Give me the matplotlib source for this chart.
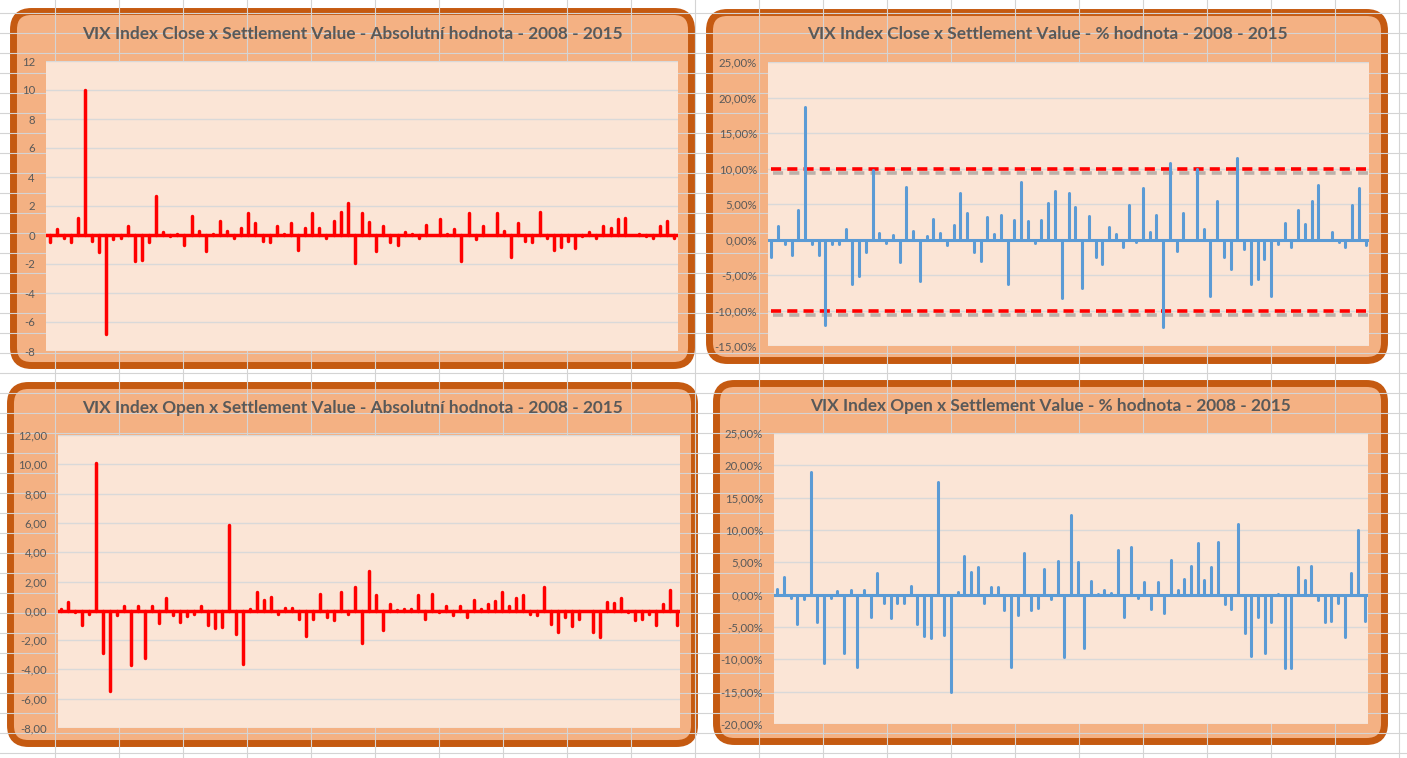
import matplotlib
matplotlib.use("Agg")
import matplotlib.pyplot as plt
import matplotlib.patheffects as pe
from matplotlib.patches import FancyBboxPatch
from matplotlib.ticker import FuncFormatter, MultipleLocator
import numpy as np

# rozdil VIX index vs. settlement value, mesicne 2008 - 2015
close_abs = [-0.5, 0.4, -0.2, -0.5, 1.2, 10.0, -0.4, -1.2, -6.8, -0.3,
             -0.2, 0.6, -1.8, -1.7, -0.5, 2.7, 0.2, -0.1, 0.1, -0.7,
             1.3, 0.3, -1.1, 0.05, 1.0, 0.3, -0.2, 0.5, 1.5, 0.8,
             -0.4, -0.5, 0.6, 0.1, 0.8, -1.0, 0.5, 1.5, 0.5, -0.2,
             1.0, 1.6, 2.2, -1.9, 1.5, 0.9, -1.1, 0.6, -0.5, -0.7,
             0.2, 0.1, -0.2, 0.7, 0.0, 1.1, 0.1, 0.4, -1.8, 1.5,
             -0.3, 0.6, 0.0, 1.5, 0.3, -1.5, 0.8, -0.4, -0.5, 1.6,
             -0.2, -1.0, -0.8, -0.4, -0.9, -0.1, 0.2, -0.2, 0.6, 0.5,
             1.1, 1.2, 0.0, 0.1, -0.1, -0.2, 0.6, 1.0, -0.2]

close_pct = [-2.4, 1.9, -0.6, -2.2, 4.1, 18.7, -0.7, -2.2, -12.1, -0.6,
             -0.6, 1.5, -6.3, -5.2, -1.7, 9.8, 0.9, -0.5, 0.6, -3.1,
             7.4, 1.2, -5.8, 0.5, 2.9, 0.9, -0.8, 2.0, 6.6, 3.8,
             -1.7, -3.0, 3.2, 0.8, 3.4, -6.3, 2.7, 8.1, 2.6, -0.5,
             2.7, 5.1, 6.9, -8.2, 6.6, 4.6, -6.8, 3.3, -2.4, -3.5,
             1.8, 0.8, -1.1, 4.9, -0.3, 7.3, 1.1, 3.5, -12.3, 10.8,
             -1.6, 3.8, 0.0, 10.0, 1.5, -8.0, 5.4, -2.4, -4.2, 11.5,
             -1.3, -6.2, -5.5, -2.8, -8.0, -0.6, 2.3, -1.0, 4.2, 2.2,
             5.4, 7.7, 0.0, 1.0, -0.4, -1.0, 4.9, 7.2, -0.8]

open_abs = [0.15, 0.6, -0.1, -0.95, -0.2, 10.1, -2.9, -5.5, -0.3, 0.3,
            -3.7, 0.3, -3.2, 0.3, -0.8, 0.9, -0.3, -0.75, -0.35, -0.25,
            0.3, -1.0, -1.15, -1.1, 5.85, -1.6, -3.6, 0.15, 1.3, 0.75,
            0.95, -0.2, 0.2, 0.2, -0.55, -1.75, -0.55, 1.15, -0.45, -0.65,
            1.3, -0.25, 1.65, -2.2, 2.75, 1.05, -1.3, 0.45, 0.05, 0.15,
            0.1, 1.05, -0.55, 1.15, -0.1, 0.35, -0.3, 0.3, -0.4, 0.75,
            0.15, 0.45, 0.7, 1.25, 0.35, 0.85, 1.1, -0.25, -0.3, 1.6,
            -0.9, -1.45, -0.45, -1.05, -0.55, 0.0, -1.45, -1.8, 0.6, 0.55,
            0.9, -0.1, -0.65, -0.55, -0.2, -1.0, 0.45, 1.4, -0.95]

open_pct = [0.9, 2.7, -0.45, -4.5, -0.7, 19.0, -4.3, -10.5, -0.5, 0.6,
            -9.0, 0.7, -11.2, 0.7, -3.45, 3.35, -1.3, -3.6, -1.3, -1.3,
            1.35, -4.6, -6.4, -6.7, 17.4, -6.3, -15.0, 0.4, 6.0, 3.5,
            4.3, -1.3, 1.2, 1.2, -2.3, -11.2, -3.2, 6.4, -2.3, -2.1,
            3.9, -0.7, 5.2, -9.6, 12.3, 5.0, -8.2, 2.1, 0.15, 0.7,
            0.25, 6.9, -3.45, 7.3, -0.5, 1.9, -2.15, 1.9, -2.8, 5.3,
            0.7, 2.4, 4.5, 8.0, 2.2, 4.3, 8.1, -1.4, -2.15, 10.9,
            -6.0, -9.5, -3.45, -9.0, -4.3, 0.15, -11.4, -11.3, 4.3, 2.2,
            4.5, -0.9, -4.2, -4.1, -1.3, -6.5, 3.35, 9.95, -4.1]

limit_pct = 10.0

titles = ["VIX Index Close x Settlement Value - Absolutní hodnota - 2008 - 2015",
          "VIX Index Close x Settlement Value - % hodnota - 2008 - 2015",
          "VIX Index Open x Settlement Value - Absolutní hodnota - 2008 - 2015",
          "VIX Index Open x Settlement Value - % hodnota - 2008 - 2015"]

W, H = 1407, 758
GRAY = "#595959"
fig = plt.figure(figsize=(W / 100, H / 100), dpi=100)

# pozadi - excel mrizka
bg = fig.add_axes([0, 0, 1, 1])
bg.set_xlim(0, W)
bg.set_ylim(H, 0)
bg.axis("off")
for x in np.arange(55, W, 64):
    bg.axvline(x, color="#D4D4D4", lw=0.8)
for y in np.arange(13.3, H, 20):
    bg.axhline(y, color="#D4D4D4", lw=0.8)

boxes = [(10, 8, 695, 369), (706, 9, 1388, 364), (7, 382, 698, 747), (713, 380, 1388, 745)]
areas = [(46, 61, 678, 351), (768, 62, 1369, 346), (58, 435, 680, 728), (774, 433, 1368, 724)]
title_y = [34, 34, 408, 406]

for (l, t, r, b) in boxes:
    bg.add_patch(FancyBboxPatch((l + 3.5, t + 3.5), r - l - 7, b - t - 7,
                                boxstyle="round,pad=0,rounding_size=18",
                                fc="#F4B183", ec="#C55A11", lw=5.0))


def fmt_abs(v, pos):
    return "%d" % v


def fmt_abs2(v, pos):
    return ("%.2f" % v).replace(".", ",")


def fmt_pct(v, pos):
    return ("%.2f%%" % v).replace(".", ",")


def panel(i, data, color, ylo, yhi, step, fmt, lw):
    l, t, r, b = areas[i]
    ax = fig.add_axes([l / W, 1 - b / H, (r - l) / W, (b - t) / H])
    ax.set_facecolor("#FBE5D6")
    x = np.arange(len(data))
    spikes = ax.vlines(x, 0, data, color=color, lw=lw, zorder=3)
    spikes.set_capstyle("round")
    ax.axhline(0, color=color, lw=lw, zorder=3)
    ax.set_xlim(-0.5, len(data) - 0.5)
    ax.set_ylim(ylo, yhi)
    ax.yaxis.set_major_locator(MultipleLocator(step))
    ax.yaxis.set_major_formatter(FuncFormatter(fmt))
    ax.yaxis.grid(True, color="#D9D9D9", lw=1)
    ax.set_axisbelow(True)
    ax.set_xticks([])
    ax.tick_params(axis="y", length=0, pad=8, labelsize=8.2, labelcolor=GRAY)
    for lab in ax.get_yticklabels():
        lab.set_family("Lato")
    for s in ax.spines.values():
        s.set_visible(False)
    l2, t2, r2, b2 = boxes[i]
    fig.text((l2 + r2) / 2 / W, 1 - title_y[i] / H, titles[i], ha="center", va="center",
             fontsize=12.4, fontweight="bold", color=GRAY, family="Lato")
    return ax, x


panel(0, close_abs, "#FF0000", -8, 12, 2, fmt_abs, 2.5)
ax2, x2 = panel(1, close_pct, "#5B9BD5", -15, 25, 5, fmt_pct, 2.2)
panel(2, open_abs, "#FF0000", -8, 12, 2, fmt_abs2, 2.5)
panel(3, open_pct, "#5B9BD5", -20, 25, 5, fmt_pct, 2.2)

# hranice +-10 %
shadow = [pe.SimpleLineShadow(offset=(1.5, -3), shadow_color="#7F7F7F", alpha=0.5), pe.Normal()]
for lim in (limit_pct, -limit_pct):
    ax2.hlines(lim, x2[0], x2[-1], color="#FF0000", lw=2.6, linestyles=(0, (2.8, 1.7)),
               zorder=2, path_effects=shadow)

fig.savefig("out.png", dpi=100)
